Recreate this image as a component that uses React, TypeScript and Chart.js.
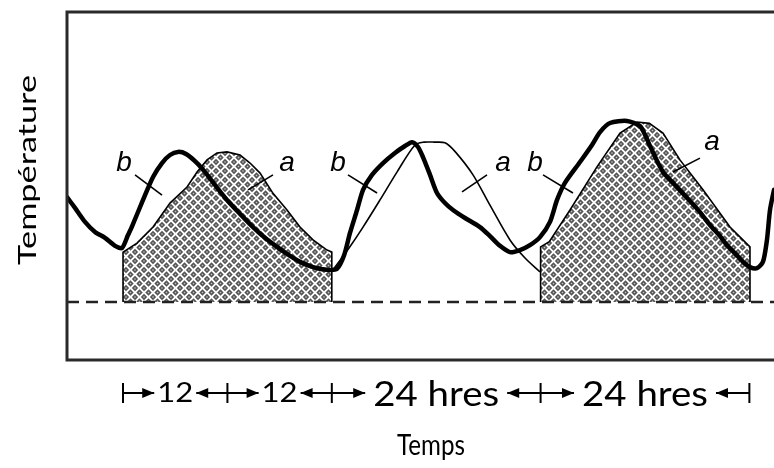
import React, { useEffect, useRef } from 'react';
import { Chart, registerables } from 'chart.js';
Chart.register(...registerables);

// ---- data (hours / relative temperature units) ----
const X_MIN = -6.44;
const X_MAX = 74.83;
const Y_MIN = 0;
const Y_MAX = 100;
const BASELINE = 16.7;

const curveBHours = [-6.44,-5.52,-4.37,-3.22,-2.07,-0.92,-0.11,0.57,1.0,2.3,3.45,4.48,5.40,6.32,7.24,8.51,9.43,10.57,11.95,13.45,14.94,16.32,17.70,19.20,20.34,21.84,23.45,24.6,25.4,26.09,26.90,27.59,28.62,29.89,31.26,32.41,33.22,33.91,34.48,35.29,36.09,37.01,37.93,39.31,41.03,42.18,43.33,44.48,45.63,46.78,47.93,49.08,49.89,50.80,52.53,53.91,54.83,55.98,57.93,59.43,60.0,60.80,62.07,63.45,64.83,66.32,67.47,68.62,69.43,70.34,71.26,72.07,72.87,73.56,74.02,74.37,74.83];
const curveBTemps = [46.8,43.7,39.7,36.8,35.1,32.8,32.2,35.9,38.2,46.0,52.6,56.6,58.9,59.8,59.2,56.6,54.0,50.3,46.0,42.0,38.2,35.1,32.5,29.9,28.2,26.7,25.9,26.2,30.0,36.5,43.1,48.9,53.2,56.6,59.5,61.5,62.6,61.2,58.3,53.2,48.0,45.1,43.1,40.8,38.2,35.6,32.8,31.0,31.6,33.0,35.3,39.7,46.0,50.9,56.9,61.8,65.5,68.1,68.7,67.2,64.7,60.3,54.0,50.3,46.6,42.5,38.8,35.6,33.0,30.7,28.2,26.7,26.4,28.2,34.5,43.1,48.9];

const curveAHours = [24.14,25.9,27.59,29.54,31.49,33.56,34.6,35.8,37.01,38.2,40.23,42.18,44.48,46.21,47.93];
const curveATemps = [25.9,31.9,38.2,46.0,54.0,61.8,62.6,62.6,62.4,59.8,53.2,44.5,34.5,29.3,25.3];

const shade1Hours = [0,1.61,3.45,5.40,7.36,8.51,9.66,10.8,11.95,13.45,14.60,15.75,17.24,18.85,20.34,21.84,23.45,24.0];
const shade1Temps = [31.0,33.6,38.2,45.1,49.7,54.0,57.5,59.5,59.8,58.9,56.6,53.7,47.9,43.1,38.2,34.5,31.6,31.0];

const shade3Hours = [48,49.0,51.38,54.48,57.13,59.08,60.5,62.07,64.02,66.67,69.77,72.07];
const shade3Temps = [32.5,34.0,43.1,55.5,65.2,68.4,68.0,65.2,57.5,48.9,38.2,32.5];

const labelTexts = ['b','a','b','a','b','a'];
const labelHours = [0.11,18.85,24.71,43.68,47.36,67.7];
const labelTemps = [56.6,56.6,56.6,56.6,56.6,62.6];
const leaderFromHours = [1.38,17.24,25.86,41.84,48.28,66.32];
const leaderFromTemps = [53.2,53.2,53.2,53.2,53.2,58.0];
const leaderToHours = [4.48,14.37,29.2,38.97,51.72,63.22];
const leaderToTemps = [47.4,48.9,48.0,48.3,48.0,54.0];

const intervalBounds = [0,12,24,48,72];
const intervalLabels = ['12','12','24 hres','24 hres'];
const yAxisTitle = 'Température';
const xAxisTitle = 'Temps';

// ---- helpers ----
const pts = (xs: number[], ys: number[]) => xs.map((x, i) => ({ x, y: ys[i] }));
const shadePts = (xs: number[], ys: number[]) => [
  { x: xs[0], y: BASELINE },
  ...pts(xs, ys),
  { x: xs[xs.length - 1], y: BASELINE },
];

function makePattern(): CanvasPattern | string {
  const s = 9;
  const c = document.createElement('canvas');
  c.width = s; c.height = s;
  const g = c.getContext('2d');
  if (!g) return '#999';
  g.fillStyle = '#ffffff';
  g.fillRect(0, 0, s, s);
  const diamond = (cx: number, cy: number, r: number) => {
    g.beginPath();
    g.moveTo(cx, cy - r); g.lineTo(cx + r, cy); g.lineTo(cx, cy + r); g.lineTo(cx - r, cy);
    g.closePath(); g.fill();
  };
  const centers = [[s/2,s/2],[0,0],[s,0],[0,s],[s,s]];
  g.fillStyle = '#555555';
  centers.forEach(([x,y]) => diamond(x, y, 3.2));
  g.fillStyle = '#c4c4c4';
  centers.forEach(([x,y]) => diamond(x, y, 1.0));
  return g.createPattern(c, 'repeat') || '#999';
}

function fitText(ctx: CanvasRenderingContext2D, text: string, cx: number, cy: number, font: string, targetW: number, angle = 0) {
  ctx.save();
  ctx.font = font;
  const w = ctx.measureText(text).width || 1;
  ctx.translate(cx, cy);
  ctx.rotate(angle);
  ctx.scale(targetW / w, 1);
  ctx.textAlign = 'center';
  ctx.textBaseline = 'middle';
  ctx.fillStyle = '#000';
  ctx.fillText(text, 0, 0);
  ctx.restore();
}

const notesPlugin = {
  id: 'notes',
  afterDatasetsDraw(chart: any) {
    const ctx: CanvasRenderingContext2D = chart.ctx;
    const xs = chart.scales.x;
    const ys = chart.scales.y;
    const ca = chart.chartArea;
    ctx.save();
    // frame
    ctx.strokeStyle = '#2a2a2a';
    ctx.lineWidth = 3;
    ctx.beginPath();
    ctx.moveTo(chart.width, ca.top);
    ctx.lineTo(ca.left, ca.top);
    ctx.lineTo(ca.left, ca.bottom);
    ctx.lineTo(chart.width, ca.bottom);
    ctx.stroke();

    // leaders + labels
    ctx.strokeStyle = '#000';
    ctx.lineWidth = 1.6;
    for (let i = 0; i < labelTexts.length; i++) {
      ctx.beginPath();
      ctx.moveTo(xs.getPixelForValue(leaderFromHours[i]), ys.getPixelForValue(leaderFromTemps[i]));
      ctx.lineTo(xs.getPixelForValue(leaderToHours[i]), ys.getPixelForValue(leaderToTemps[i]));
      ctx.stroke();
      ctx.font = 'italic 28px "Liberation Sans"';
      ctx.textAlign = 'center';
      ctx.textBaseline = 'middle';
      ctx.fillStyle = '#000';
      ctx.fillText(labelTexts[i], xs.getPixelForValue(labelHours[i]), ys.getPixelForValue(labelTemps[i]));
    }

    // bottom interval annotations
    const yc = ca.bottom + 33;
    ctx.lineWidth = 2;
    ctx.strokeStyle = '#000';
    ctx.fillStyle = '#000';
    intervalBounds.forEach((h) => {
      const px = xs.getPixelForValue(h);
      ctx.beginPath();
      ctx.moveTo(px, yc - 10);
      ctx.lineTo(px, yc + 10);
      ctx.stroke();
    });
    for (let i = 0; i < intervalLabels.length; i++) {
      const x0 = xs.getPixelForValue(intervalBounds[i]);
      const x1 = xs.getPixelForValue(intervalBounds[i + 1]);
      const xc = (x0 + x1) / 2;
      const small = intervalLabels[i].length <= 2;
      const tw = small ? 36 : 126;
      fitText(ctx, intervalLabels[i], xc, yc + (small ? 0 : 2), small ? '27px Lato' : '34px Lato', tw);
      const gap = small ? 3 : 8;
      const lEnd = xc - tw / 2 - gap;
      const rEnd = xc + tw / 2 + gap;
      ctx.beginPath();
      ctx.moveTo(x0, yc); ctx.lineTo(lEnd, yc);
      ctx.moveTo(x1, yc); ctx.lineTo(rEnd, yc);
      ctx.stroke();
      // arrowheads pointing toward the text
      ctx.beginPath();
      ctx.moveTo(lEnd, yc); ctx.lineTo(lEnd - 12, yc - 5); ctx.lineTo(lEnd - 12, yc + 5); ctx.closePath();
      ctx.moveTo(rEnd, yc); ctx.lineTo(rEnd + 12, yc - 5); ctx.lineTo(rEnd + 12, yc + 5); ctx.closePath();
      ctx.fill();
    }

    // axis titles
    fitText(ctx, yAxisTitle, 28, 170, '25px Lato', 190, -Math.PI / 2);
    fitText(ctx, xAxisTitle, 431, 446, '28px Lato', 68);
    ctx.restore();
  },
};

export default function App() {
  const ref = useRef<HTMLCanvasElement | null>(null);
  useEffect(() => {
    document.body.style.margin = '0';
    const canvas = ref.current;
    if (!canvas) return;
    const pattern = makePattern();
    const chart = new Chart(canvas, {
      type: 'line',
      data: {
        datasets: [
          {
            label: 'b',
            data: pts(curveBHours, curveBTemps),
            borderColor: '#000',
            borderWidth: 4.5,
            pointRadius: 0,
            tension: 0.25,
            fill: false,
            borderJoinStyle: 'round',
            borderCapStyle: 'round',
            order: 1,
          } as any,
          {
            label: 'a',
            data: pts(curveAHours, curveATemps),
            borderColor: '#000',
            borderWidth: 1.6,
            pointRadius: 0,
            tension: 0.3,
            fill: false,
            order: 2,
          },
          {
            label: 'base',
            data: [{ x: X_MIN, y: BASELINE }, { x: X_MAX, y: BASELINE }],
            borderColor: '#222',
            borderWidth: 2.5,
            borderDash: [12, 7],
            pointRadius: 0,
            fill: false,
            order: 3,
          },
          {
            label: 'a1',
            data: shadePts(shade1Hours, shade1Temps),
            borderColor: '#000',
            borderWidth: 1.6,
            backgroundColor: pattern as any,
            pointRadius: 0,
            tension: 0,
            fill: { value: BASELINE },
            order: 4,
          },
          {
            label: 'a3',
            data: shadePts(shade3Hours, shade3Temps),
            borderColor: '#000',
            borderWidth: 1.6,
            backgroundColor: pattern as any,
            pointRadius: 0,
            tension: 0,
            fill: { value: BASELINE },
            order: 5,
          },
        ],
      },
      options: {
        animation: false,
        responsive: false,
        devicePixelRatio: 1,
        layout: { padding: { left: 67, top: 12, right: 0, bottom: 108 } },
        plugins: { legend: { display: false }, tooltip: { enabled: false } },
        scales: {
          x: { type: 'linear', min: X_MIN, max: X_MAX, display: false },
          y: { type: 'linear', min: Y_MIN, max: Y_MAX, display: false },
        },
      },
      plugins: [notesPlugin],
    });
    return () => chart.destroy();
  }, []);
  return (
    <div style={{ width: 774, height: 468, background: '#fff' }}>
      <canvas ref={ref} width={774} height={468} />
    </div>
  );
}
